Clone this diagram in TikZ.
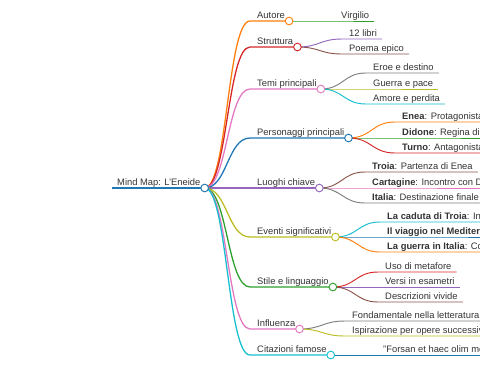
\documentclass[tikz,border=0pt]{standalone}
\usepackage{fontspec}
\setmainfont{Liberation Sans}
\usetikzlibrary{calc}
\definecolor{MapBlue}{HTML}{1F77B4}
\definecolor{MapOrange}{HTML}{FF7F0E}
\definecolor{MapGreen}{HTML}{2CA02C}
\definecolor{MapRed}{HTML}{D62728}
\definecolor{MapPurple}{HTML}{9467BD}
\definecolor{MapBrown}{HTML}{8C564B}
\definecolor{MapPink}{HTML}{E377C2}
\definecolor{MapGray}{HTML}{7F7F7F}
\definecolor{MapOlive}{HTML}{BCBD22}
\definecolor{MapCyan}{HTML}{17BECF}
\definecolor{MapText}{HTML}{333333}
\tikzset{
  lbl/.style={anchor=base west, inner sep=0pt, font=\fontsize{8}{9.6}\selectfont, text=MapText},
  knob/.style={circle, draw, fill=white, inner sep=0pt, minimum size=0.23cm, line width=0.8pt},
  link/.style={to path={let \p1=(\tikztostart), \p2=(\tikztotarget) in
    .. controls ({(\x1+\x2)/2},\y1) and ({(\x1+\x2)/2},\y2) .. (\tikztotarget)}},
  rootline/.style={line width=1.5pt},
  mainline/.style={line width=1.1pt},
  leafline/.style={line width=0.8pt}
}
\begin{document}
\begin{tikzpicture}[x=0.03cm,y=-0.03cm]
  \useasboundingbox (0,0) rectangle (480,379);
  \clip (0,0) rectangle (480,379);

  % Root
  \node[lbl] (t0) at (117,185) {Mind Map: L\symbol{39}Eneide};
  \coordinate (s0) at (112,188);
  \coordinate (k0) at ($(t0.base east)+(4,3)$);
  \draw[rootline,MapBlue] (s0) -- (k0);

  % Main branches
  \foreach \i/\y/\t/\c in {1/21/Autore/MapOrange, 2/47/Struttura/MapRed,
      3/89/Temi principali/MapPink, 4/138/Personaggi principali/MapBlue,
      5/188/Luoghi chiave/MapPurple, 6/237/Eventi significativi/MapOlive,
      7/287/Stile e linguaggio/MapGreen, 8/329/Influenza/MapPink,
      9/355/Citazioni famose/MapCyan} {
    \coordinate (s\i) at (250,\y);
    \node[lbl] (t\i) at (257,{\y-3}) {\t};
    \coordinate (k\i) at ($(t\i.base east)+(4,3)$);
    \draw[mainline,\c] (k0) to[link] (s\i) -- (k\i);
  }

  % Autore
  \foreach \j/\y/\t/\c in {1/21/Virgilio/MapGreen} {
    \coordinate (s1\j) at (334,\y);
    \node[lbl] (t1\j) at (341,{\y-3}) {\t};
    \coordinate (e1\j) at ($(t1\j.base east)+(5,3)$);
    \draw[leafline,\c] (k1) to[link] (s1\j) -- (e1\j);
  }

  % Struttura
  \foreach \j/\y/\t/\c in {1/39/12 libri/MapPurple, 2/54/Poema epico/MapBrown} {
    \coordinate (s2\j) at (342,\y);
    \node[lbl] (t2\j) at (349,{\y-3}) {\t};
    \coordinate (e2\j) at ($(t2\j.base east)+(5,3)$);
    \draw[leafline,\c] (k2) to[link] (s2\j) -- (e2\j);
  }

  % Temi principali
  \foreach \j/\y/\t/\c in {1/73/Eroe e destino/MapGray, 2/89/Guerra e pace/MapOlive,
      3/104/Amore e perdita/MapCyan} {
    \coordinate (s3\j) at (366,\y);
    \node[lbl] (t3\j) at (373,{\y-3}) {\t};
    \coordinate (e3\j) at ($(t3\j.base east)+(5,3)$);
    \draw[leafline,\c] (k3) to[link] (s3\j) -- (e3\j);
  }

  % Personaggi principali
  \foreach \j/\y/\t/\c in {1/122/\textbf{Enea}: Protagonista/MapOrange,
      2/138/\textbf{Didone}: Regina di Cartagine/MapGreen,
      3/153/\textbf{Turno}: Antagonista/MapRed} {
    \coordinate (s4\j) at (395,\y);
    \node[lbl] (t4\j) at (402,{\y-3}) {\t};
    \coordinate (e4\j) at ($(t4\j.base east)+(5,3)$);
    \draw[leafline,\c] (k4) to[link] (s4\j) -- (e4\j);
  }

  % Luoghi chiave
  \foreach \j/\y/\t/\c in {1/172/\textbf{Troia}: Partenza di Enea/MapBrown,
      2/188/\textbf{Cartagine}: Incontro con Didone/MapPink,
      3/203/\textbf{Italia}: Destinazione finale/MapGray} {
    \coordinate (s5\j) at (365,\y);
    \node[lbl] (t5\j) at (372,{\y-3}) {\t};
    \coordinate (e5\j) at ($(t5\j.base east)+(5,3)$);
    \draw[leafline,\c] (k5) to[link] (s5\j) -- (e5\j);
  }

  % Eventi significativi
  \foreach \j/\y/\t/\c in {1/222/\textbf{La caduta di Troia}: Inizio del viaggio/MapCyan,
      2/237/\textbf{Il viaggio nel Mediterraneo}: Avventure/MapBlue,
      3/252/\textbf{La guerra in Italia}: Conflitto finale/MapOrange} {
    \coordinate (s6\j) at (380,\y);
    \node[lbl] (t6\j) at (387,{\y-3}) {\t};
    \coordinate (e6\j) at ($(t6\j.base east)+(5,3)$);
    \draw[leafline,\c] (k6) to[link] (s6\j) -- (e6\j);
  }

  % Stile e linguaggio
  \foreach \j/\y/\t/\c in {1/272/Uso di metafore/MapRed, 2/287/Versi in esametri/MapPurple,
      3/302/Descrizioni vivide/MapBrown} {
    \coordinate (s7\j) at (378,\y);
    \node[lbl] (t7\j) at (385,{\y-3}) {\t};
    \coordinate (e7\j) at ($(t7\j.base east)+(5,3)$);
    \draw[leafline,\c] (k7) to[link] (s7\j) -- (e7\j);
  }

  % Influenza
  \foreach \j/\y/\t/\c in {1/321/Fondamentale nella letteratura latina/MapGray,
      2/336/Ispirazione per opere successive/MapOlive} {
    \coordinate (s8\j) at (345,\y);
    \node[lbl] (t8\j) at (352,{\y-3}) {\t};
    \coordinate (e8\j) at ($(t8\j.base east)+(5,3)$);
    \draw[leafline,\c] (k8) to[link] (s8\j) -- (e8\j);
  }

  % Citazioni famose
  \foreach \j/\y/\t/\c in {1/355/\symbol{34}Forsan et haec olim meminisse iuvabit\symbol{34}/MapBlue} {
    \coordinate (s9\j) at (376,\y);
    \node[lbl] (t9\j) at (383,{\y-3}) {\t};
    \coordinate (e9\j) at ($(t9\j.base east)+(5,3)$);
    \draw[leafline,\c] (k9) to[link] (s9\j) -- (e9\j);
  }

  % Knobs on top
  \foreach \k/\c in {k0/MapBlue, k1/MapOrange, k2/MapRed, k3/MapPink, k4/MapBlue,
      k5/MapPurple, k6/MapOlive, k7/MapGreen, k8/MapPink, k9/MapCyan}
    \node[knob,draw=\c] (n\k) at (\k) {};
\end{tikzpicture}
\end{document}
